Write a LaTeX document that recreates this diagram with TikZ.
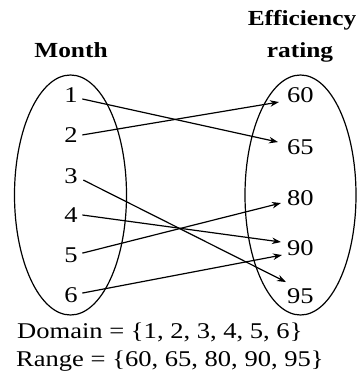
\documentclass[tikz,border=0pt]{standalone}
\usepackage{fontspec}
\setmainfont{Liberation Serif}[FakeStretch=1.18]
\usetikzlibrary{arrows.meta}
\begin{document}
\begin{tikzpicture}[x=1pt,y=-1pt,
  num/.style={inner sep=0pt,anchor=base,font=\fontsize{22.5}{26}\selectfont},
  rnum/.style={inner sep=0pt,anchor=base west,font=\fontsize{22.5}{26}\selectfont},
  title/.style={inner sep=0pt,anchor=base,font=\fontsize{21.5}{25}\selectfont\bfseries},
  txt/.style={inner sep=0pt,anchor=base west,font=\fontsize{22.5}{26}\selectfont},
  oval/.style={line width=1.2pt},
  arr/.style={line width=1.2pt,-{Stealth[length=9pt,width=6.5pt]}}]
\useasboundingbox (0,0) rectangle (359,379);
% titles
\node[title] (tmonth) at (71,58) {Month};
\node[title] (teff) at (302,26) {Efficiency};
\node[title] (trat) at (300,58) {rating};
% ellipses
\draw[oval] (70.5,195) ellipse [x radius=56, y radius=120];
\draw[oval] (300.5,195) ellipse [x radius=55.5, y radius=120];
% left numbers
\node[num] (l1) at (71,103) {1};
\node[num] (l2) at (71,143) {2};
\node[num] (l3) at (71,183) {3};
\node[num] (l4) at (71,222) {4};
\node[num] (l5) at (71,262) {5};
\node[num] (l6) at (71,302) {6};
% right numbers
\node[rnum] (r60) at (287,103) {60};
\node[rnum] (r65) at (287,155) {65};
\node[rnum] (r80) at (287,205) {80};
\node[rnum] (r90) at (287,255) {90};
\node[rnum] (r95) at (287,303) {95};
% arrows
\draw[arr] ([shift={(4.5,3.4)}]l1.east) -- ([shift={(-9,-5.6)}]r65.west);
\draw[arr] ([shift={(4.5,-0.6)}]l2.east) -- ([shift={(-8,6.4)}]r60.west);
\draw[arr] ([shift={(5.5,4.4)}]l3.east) -- ([shift={(-1,-13.6)}]r95.west);
\draw[arr] ([shift={(4.5,0.4)}]l4.east) -- ([shift={(-6,-5.6)}]r90.west);
\draw[arr] ([shift={(4.5,-1.6)}]l5.east) -- ([shift={(-6,5.4)}]r80.west);
\draw[arr] ([shift={(4.5,-1.6)}]l6.east) -- ([shift={(-5,7.4)}]r90.west);
% bottom text
\node[txt] (dom) at (17,338) {Domain = \{1, 2, 3, 4, 5, 6\}};
\node[txt] (rng) at (16,366) {Range = \{60, 65, 80, 90, 95\}};
\end{tikzpicture}
\end{document}
